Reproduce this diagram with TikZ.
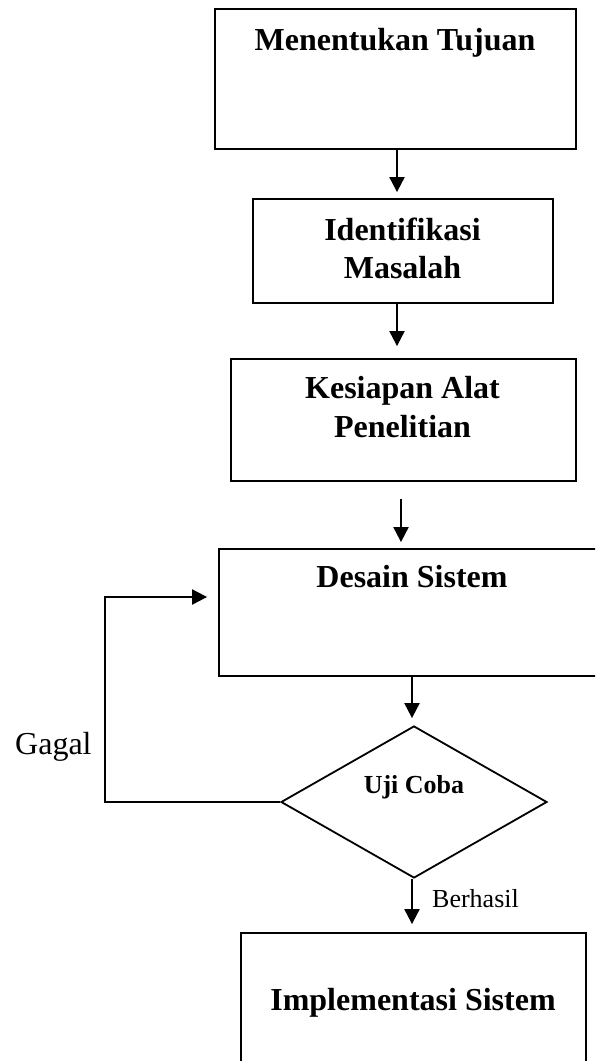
\documentclass[tikz,border=0pt]{standalone}
\usepackage{fontspec}
\setmainfont{Liberation Serif}
\usetikzlibrary{arrows.meta,shapes.geometric}
\begin{document}
\begin{tikzpicture}[x=1pt,y=-1pt,
  box/.style={draw=black, line width=1.8pt, inner sep=0pt, rectangle},
  dia/.style={draw=black, line width=1.8pt, inner sep=0pt, diamond},
  big/.style={inner sep=0pt, anchor=base, font=\fontsize{32}{38}\selectfont\bfseries},
  small/.style={inner sep=0pt, anchor=base, font=\fontsize{26}{30}\selectfont\bfseries},
  lbl/.style={inner sep=0pt, anchor=base west},
  arr/.style={line width=2pt, -{Triangle[length=15pt,width=15pt]}}
]
\useasboundingbox (0,0) rectangle (595,1061);
\clip (0,0) rectangle (595,1061);
\fill[white] (0,0) rectangle (595,1061);

% boxes
\node[box, minimum width=361pt, minimum height=140pt] (b1) at (395.5,79) {};
\node[box, minimum width=300pt, minimum height=104pt] (b2) at (403,251) {};
\node[box, minimum width=345pt, minimum height=122pt] (b3) at (403.5,420) {};
\node[box, minimum width=387pt, minimum height=127pt] (b4) at (412.5,612.5) {};
\node[dia, minimum width=266pt, minimum height=152pt] (d) at (414,802) {};
\node[box, minimum width=345pt, minimum height=160pt] (b5) at (413.5,1013) {};

% texts
\node[big] (t1) at (395,50) {Menentukan Tujuan};
\node[big] (t2a) at (402.5,240) {Identifikasi};
\node[big] (t2b) at (402.5,278) {Masalah};
\node[big] (t3a) at (402.5,398) {Kesiapan Alat};
\node[big] (t3b) at (402.5,437) {Penelitian};
\node[big] (t4) at (412,587) {Desain Sistem};
\node[small] (t5) at (414,793) {Uji Coba};
\node[big] (t6) at (413,1010) {Implementasi Sistem};
\node[lbl, font=\fontsize{32}{38}\selectfont] (gagal) at (15,754) {Gagal};
\node[lbl, font=\fontsize{26}{30}\selectfont] (berhasil) at (432,907) {Berhasil};

% connectors
\coordinate (a1) at (397,0);
\coordinate (a3s) at (401,499);
\coordinate (a4) at (412,0);
\coordinate (lc) at (105,597);
\draw[arr, shorten >=6pt] (b1.south -| a1) -- (b2.north -| a1);
\draw[arr, shorten >=12pt] (b2.south -| a1) -- (b3.north -| a1);
\draw[arr, shorten >=6pt] (a3s) -- (a3s |- b4.north);
\draw[arr, shorten >=7pt] (b4.south -| a4) -- (d.north -| a4);
\draw[arr, shorten >=11pt] (d.west) -| (lc) -- (lc -| b4.west);
\draw[arr, shorten >=8pt] (d.south -| a4) -- (b5.north -| a4);
\end{tikzpicture}
\end{document}
